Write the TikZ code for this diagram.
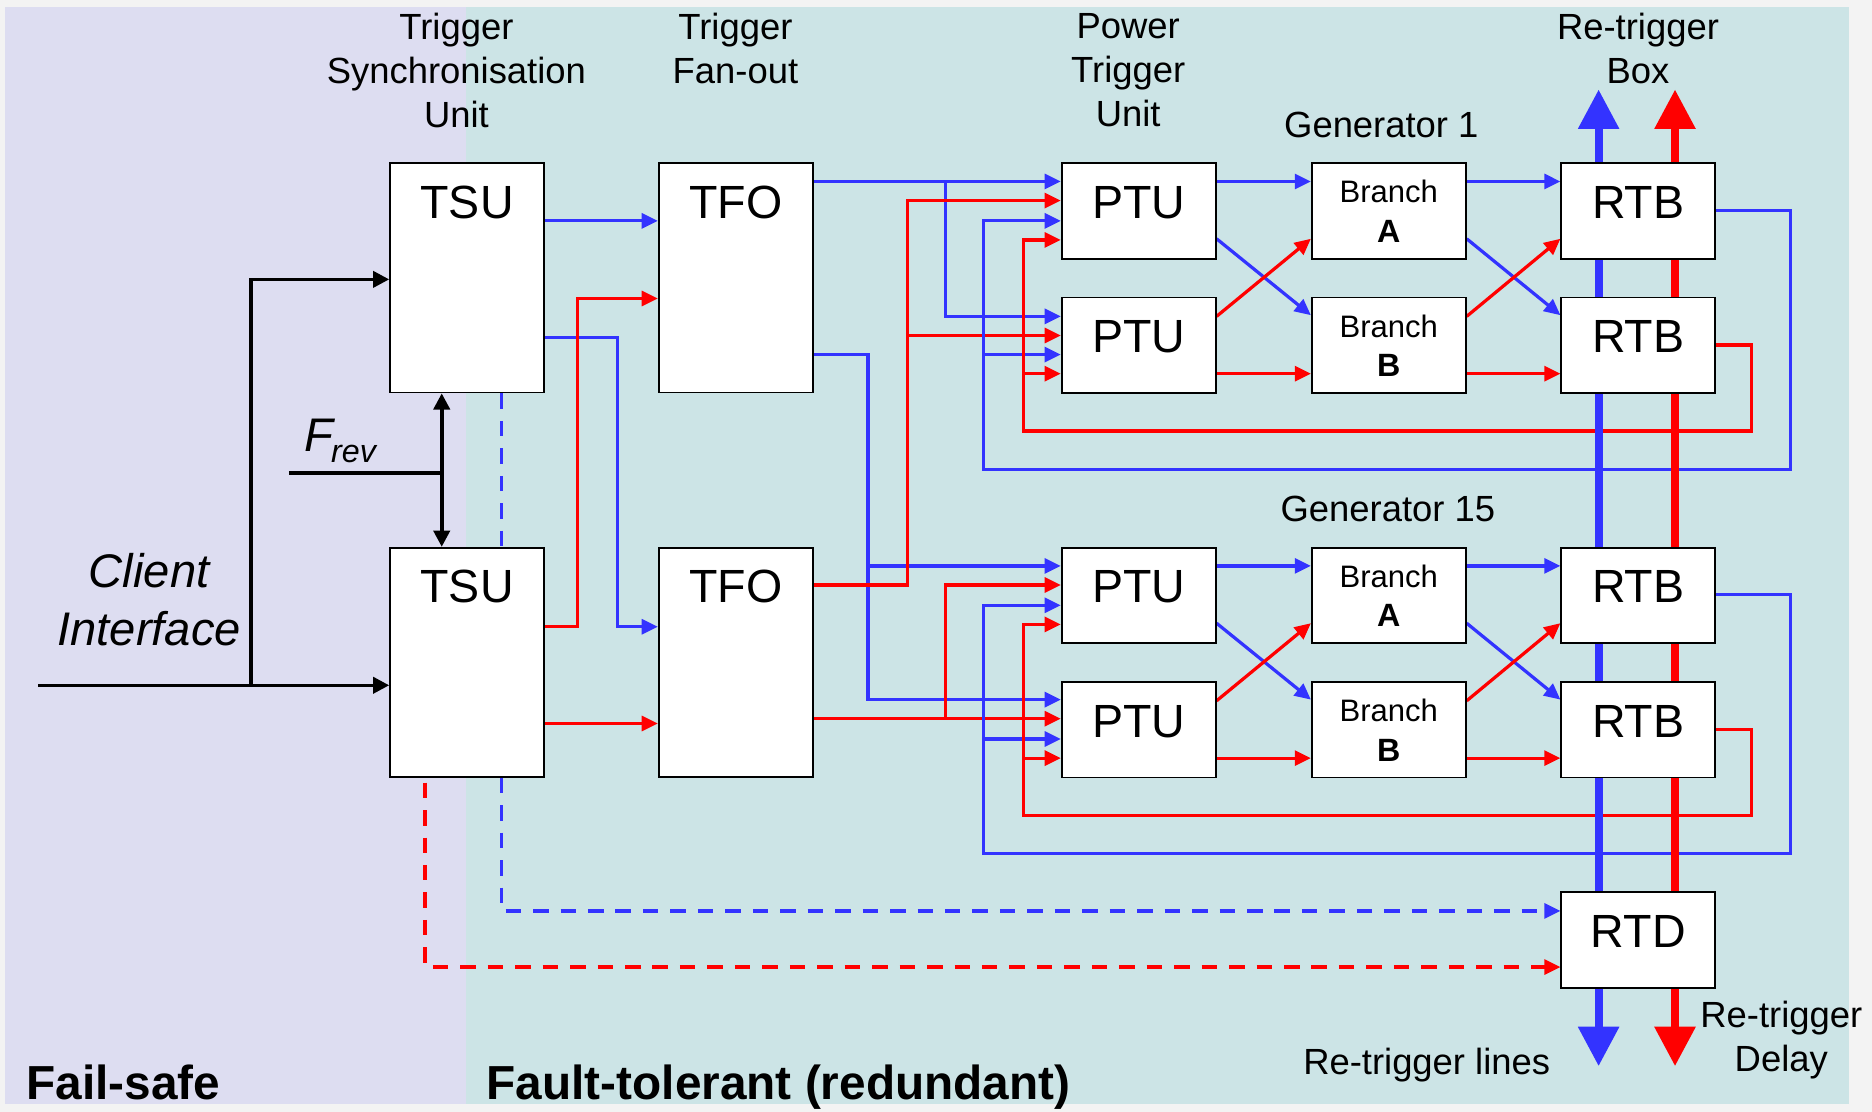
\documentclass[tikz,border=0pt]{standalone}
\usepackage{fontspec}
\setmainfont{Liberation Sans}
\usetikzlibrary{arrows.meta}
\definecolor{bgray}{RGB}{243,243,243}
\definecolor{violetbg}{RGB}{221,221,241}
\definecolor{tealbg}{RGB}{204,228,230}
\definecolor{wblue}{RGB}{51,51,255}
\definecolor{wred}{RGB}{255,0,0}
\pgfdeclarelayer{back}\pgfdeclarelayer{wires}\pgfdeclarelayer{thick}
\pgfsetlayers{back,wires,thick,main}
\tikzset{
 box/.style={draw=black, line width=1.5pt, fill=white, inner sep=0pt, anchor=north west},
 bigbox/.style={box, minimum width=129pt, minimum height=192pt},
 smallbox/.style={box, minimum width=129pt, minimum height=80pt},
 boxlbl/.style={anchor=base, inner sep=0pt, font=\fontsize{39}{44}\selectfont},
 brlbl/.style={anchor=base, inner sep=0pt, font=\fontsize{26}{30}\selectfont},
 brletter/.style={anchor=base, inner sep=0pt, font=\fontsize{27}{30}\selectfont\bfseries},
 wire/.style={line width=2.7pt, -{Triangle[length=13.5pt,width=12.5pt]}},
 bl/.style={wire, draw=wblue},
 rd/.style={wire, draw=wred},
 bk/.style={line width=3pt, draw=black, -{Triangle[length=13.5pt,width=13.5pt]}},
 dsh/.style={dash pattern=on 13pt off 10pt},
 thickb/.style={line width=6.5pt, draw=wblue, {Triangle[length=33pt,width=33pt]}-{Triangle[length=33pt,width=33pt]}},
 thickr/.style={line width=6.5pt, draw=wred, {Triangle[length=33pt,width=33pt]}-{Triangle[length=33pt,width=33pt]}},
 toplbl/.style={align=center, anchor=north, inner sep=0pt, font=\fontsize{30.5}{37}\selectfont},
 midlbl/.style={anchor=base, inner sep=0pt, font=\fontsize{30.5}{37}\selectfont},
 biglbl/.style={anchor=base west, inner sep=0pt, font=\fontsize{40}{44}\selectfont\bfseries},
}
\begin{document}
\begin{tikzpicture}[x=1pt,y=-1pt]
\useasboundingbox (0,0) rectangle (1568,931);
\begin{pgfonlayer}{back}
\fill[bgray] (0,0) rectangle (1568,931);
\fill[violetbg] (4,6) rectangle (390,925);
\fill[tealbg] (390,6) rectangle (1549,925);
\end{pgfonlayer}

% boxes
\node[bigbox] (tsu1) at (326,136) {};
\node[bigbox] (tsu2) at (326,458) {};
\node[bigbox] (tfo1) at (551,136) {};
\node[bigbox] (tfo2) at (551,458) {};
\foreach \g/\dy in {1/0,2/322}{
 \node[smallbox] (ptua\g) at (888.5,{136+\dy}) {};
 \node[smallbox] (ptub\g) at (888.5,{248.5+\dy}) {};
 \node[smallbox] (bra\g) at (1098,{136+\dy}) {};
 \node[smallbox] (brb\g) at (1098,{248.5+\dy}) {};
 \node[smallbox] (rtba\g) at (1307,{136+\dy}) {};
 \node[smallbox] (rtbb\g) at (1307,{248.5+\dy}) {};
 \node[boxlbl] (ptua\g l) at ([yshift=-47pt]ptua\g.north) {PTU};
 \node[boxlbl] (ptub\g l) at ([yshift=-47pt]ptub\g.north) {PTU};
 \node[boxlbl] (rtba\g l) at ([yshift=-47pt]rtba\g.north) {RTB};
 \node[boxlbl] (rtbb\g l) at ([yshift=-47pt]rtbb\g.north) {RTB};
 \node[brlbl] (bra\g l) at ([yshift=-34pt]bra\g.north) {Branch};
 \node[brletter] (bra\g m) at ([yshift=-67pt]bra\g.north) {A};
 \node[brlbl] (brb\g l) at ([yshift=-34pt]brb\g.north) {Branch};
 \node[brletter] (brb\g m) at ([yshift=-67pt]brb\g.north) {B};
}
\node[smallbox] (rtd) at (1307,746.5) {};
\node[boxlbl] (tsu1l) at ([yshift=-47pt]tsu1.north) {TSU};
\node[boxlbl] (tsu2l) at ([yshift=-47pt]tsu2.north) {TSU};
\node[boxlbl] (tfo1l) at ([yshift=-47pt]tfo1.north) {TFO};
\node[boxlbl] (tfo2l) at ([yshift=-47pt]tfo2.north) {TFO};
\node[boxlbl] (rtdl) at ([yshift=-47pt]rtd.north) {RTD};

% texts
\node[toplbl] (tsuh) at (382.3,10.5) {Trigger\\Synchronisation\\Unit};
\node[toplbl] (tfoh) at (616,10.5) {Trigger\\Fan-out};
\node[toplbl] (ptuh) at (945,11) {Power\\Trigger\\Unit};
\node[toplbl] (rtbh) at (1372,10.5) {Re-trigger\\Box};
\node[midlbl] (gen1) at (1157,115.5) {Generator 1};
\node[midlbl] (gen15) at (1162.5,437) {Generator 15};
\node[align=center, anchor=north, inner sep=0pt, font=\fontsize{39.5}{48}\selectfont\itshape] (cli) at (125,463.5) {Client\\Interface};
\node[anchor=base west, inner sep=0pt, font=\fontsize{39.5}{44}\selectfont\itshape] (frev) at (255,378) {F\kern-2pt\raisebox{-9pt}{\fontsize{27}{30}\selectfont rev}};
\node[midlbl] (rtlines) at (1195,900) {Re-trigger lines};
\node[toplbl] (rtdelay) at (1492,838.5) {Re-trigger\\Delay};
\node[biglbl] (fsafe) at (22,921) {Fail-safe};
\node[biglbl] (ftol) at (407.5,921) {Fault-tolerant (redundant)};

\begin{pgfonlayer}{wires}
% black
\coordinate (ci) at (32,574);
\coordinate (cj) at (210,574);
\draw[bk] (ci) -- (tsu2.west |- ci);
\draw[bk] (cj) |- (tsu1.west |- 0,234);
\coordinate (fr) at (242,396);
\coordinate (fj) at (370,396);
\draw[bk,-] (fr) -- (fj);
\draw[bk,{Triangle[length=13.5pt,width=13.5pt]}-{Triangle[length=13.5pt,width=13.5pt]}] (tsu1.south -| fj) -- (tsu2.north -| fj);
% TSU -> TFO
\draw[bl] (tsu1.east |- 0,185) -- (tfo1.west |- 0,185);
\draw[bl] (tsu1.east |- 0,283) -| (517,525) -- (tfo2.west |- 0,525);
\draw[rd] (tsu2.east |- 0,525) -| (484,250) -- (tfo1.west |- 0,250);
\draw[rd] (tsu2.east |- 0,606) -- (tfo2.west |- 0,606);
% dashed
\draw[bl,dsh,-] (tsu1.south -| 420,0) -- (tsu2.north -| 420,0);
\draw[bl,dsh] (tsu2.south -| 420,0) |- (rtd.west |- 0,763);
\draw[rd,dsh] ([yshift=-4pt]tsu2.south -| 356,0) |- (rtd.west |- 0,810);
% TFO -> PTU
\draw[bl] (tfo1.east |- 0,152) -- (ptua1.west |- 0,152);
\coordinate (jb1) at (792,152);
\draw[bl] (jb1) |- (ptub1.west |- 0,265);
\draw[bl] (tfo1.east |- 0,297) -| (727,586) -- (ptub2.west |- 0,586);
\coordinate (jb2) at (727,474);
\draw[bl] (jb2) -- (ptua2.west |- jb2);
\draw[rd] (tfo2.east |- 0,490) -| (760,168) -- (ptua1.west |- 0,168);
\coordinate (jr1) at (760,281);
\draw[rd] (jr1) -- (ptub1.west |- jr1);
\draw[rd] (tfo2.east |- 0,602) -- (ptub2.west |- 0,602);
\coordinate (jr2) at (792,602);
\draw[rd] (jr2) |- (ptua2.west |- 0,490);
% generators
\foreach \g/\dy in {1/0,2/322}{
 \draw[bl] (ptua\g.east |- 0,{152+\dy}) -- (bra\g.west |- 0,{152+\dy});
 \draw[bl] (ptua\g.east |- 0,{200+\dy}) -- (brb\g.west |- 0,{264+\dy});
 \draw[rd] (ptub\g.east |- 0,{265+\dy}) -- (bra\g.west |- 0,{200+\dy});
 \draw[rd] (ptub\g.east |- 0,{313+\dy}) -- (brb\g.west |- 0,{313+\dy});
 \draw[bl] (bra\g.east |- 0,{152+\dy}) -- (rtba\g.west |- 0,{152+\dy});
 \draw[bl] (bra\g.east |- 0,{200+\dy}) -- (rtbb\g.west |- 0,{264+\dy});
 \draw[rd] (brb\g.east |- 0,{265+\dy}) -- (rtba\g.west |- 0,{200+\dy});
 \draw[rd] (brb\g.east |- 0,{313+\dy}) -- (rtbb\g.west |- 0,{313+\dy});
 \draw[bl] (rtba\g.east |- 0,{176+\dy}) -- (1500,{176+\dy}) -- (1500,{393+\dy}) -- (824,{393+\dy}) -- (824,{185+\dy}) -- (ptua\g.west |- 0,{185+\dy});
 \coordinate (bf\g) at (824,{297+\dy});
 \draw[bl] (bf\g) -- (ptub\g.west |- bf\g);
 \draw[rd] (rtbb\g.east |- 0,{289+\dy}) -- (1467,{289+\dy}) -- (1467,{361+\dy}) -- (857,{361+\dy}) -- (857,{201+\dy}) -- (ptua\g.west |- 0,{201+\dy});
 \coordinate (rf\g) at (857,{313+\dy});
 \draw[rd] (rf\g) -- (ptub\g.west |- rf\g);
}
\end{pgfonlayer}

\begin{pgfonlayer}{thick}
\coordinate (bt) at (1339,75);
\coordinate (bb) at (1339,893);
\coordinate (rt) at (1403,75);
\coordinate (rb) at (1403,893);
\draw[thickb] (bb) -- (bt);
\draw[thickr] (rb) -- (rt);
\end{pgfonlayer}
\end{tikzpicture}
\end{document}
